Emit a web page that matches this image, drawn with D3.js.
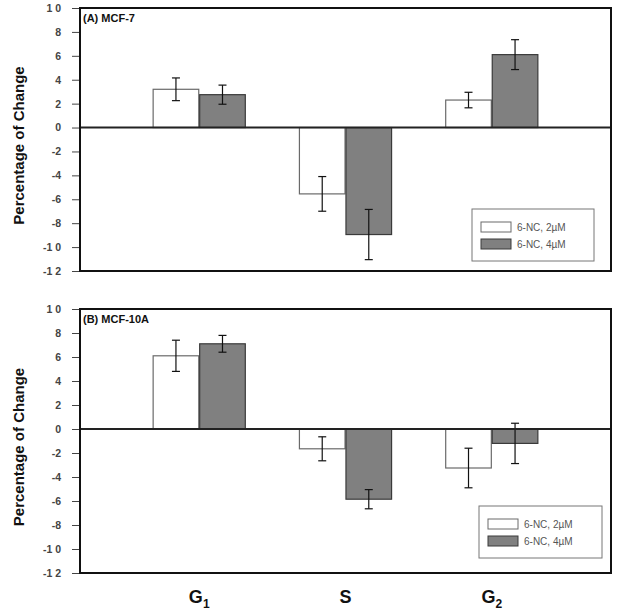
<!DOCTYPE html>
<html><head><meta charset="utf-8">
<script src="https://cdn.jsdelivr.net/npm/d3@7"></script>
<style>body{margin:0;background:#fff}</style>
</head><body>
<svg id="c" width="619" height="612"></svg>
<script>
const phases = ["G1", "S", "G2"];
const series = ["6-NC, 2uM", "6-NC, 4uM"];
const yTicks = [10, 8, 6, 4, 2, 0, -2, -4, -6, -8, -10, -12];
const panelTitles = ["(A) MCF-7", "(B) MCF-10A"];
// MCF-7
const mcf7_2uM = [3.2, -5.55, 2.3];
const mcf7_2uM_err = [0.95, 1.45, 0.65];
const mcf7_4uM = [2.75, -8.95, 6.1];
const mcf7_4uM_err = [0.8, 2.1, 1.25];
// MCF-10A
const mcf10a_2uM = [6.1, -1.65, -3.25];
const mcf10a_2uM_err = [1.3, 1.0, 1.65];
const mcf10a_4uM = [7.1, -5.85, -1.2];
const mcf10a_4uM_err = [0.7, 0.8, 1.68];

const panels = [
  {title: panelTitles[0], vals: [mcf7_2uM, mcf7_4uM], errs: [mcf7_2uM_err, mcf7_4uM_err], top: 8, bottom: 271, legend: {x: 472, y: 209, w: 122, h: 52}},
  {title: panelTitles[1], vals: [mcf10a_2uM, mcf10a_4uM], errs: [mcf10a_2uM_err, mcf10a_4uM_err], top: 309, bottom: 573, legend: {x: 479, y: 506, w: 123, h: 52}}
];
const fills = ["#ffffff", "#808080"];
const strokes = ["#6a6a6a", "#3a3a3a"];
const left = 80, right = 611;
const svg = d3.select("#c");
const font = "Liberation Sans, Arial, sans-serif";

const x0 = d3.scaleBand().domain(phases).range([left, right]).paddingInner(0.37).paddingOuter(0.5);
const x1 = d3.scaleBand().domain(series).range([0, x0.bandwidth()]).paddingInner(0.02);

panels.forEach((p, pi) => {
  const y = d3.scaleLinear().domain([-12, 10]).range([p.bottom, p.top]);
  const g = svg.append("g");
  // y axis
  const ax = g.append("g").attr("transform", `translate(${left},0)`)
    .call(d3.axisLeft(y).tickValues(yTicks).tickSize(8).tickPadding(11).tickFormat(d => String(d).split("").join(" ").replace("- ", "-")));
  ax.select(".domain").remove();
  ax.selectAll("line").attr("stroke", "#444").attr("stroke-width", 1);
  ax.selectAll("text").attr("font-family", font).attr("font-size", 10.5).attr("font-weight", "bold").attr("fill", "#444");
  // bars
  series.forEach((s, si) => {
    g.selectAll(null).data(phases).enter().append("rect")
      .attr("x", d => x0(d) + x1(s))
      .attr("width", x1.bandwidth())
      .attr("y", (d, i) => y(Math.max(0, p.vals[si][i])))
      .attr("height", (d, i) => Math.abs(y(p.vals[si][i]) - y(0)))
      .attr("fill", fills[si]).attr("stroke", strokes[si]).attr("stroke-width", 1.2);
  });
  // error bars
  series.forEach((s, si) => {
    phases.forEach((d, i) => {
      const cx = x0(d) + x1(s) + x1.bandwidth() / 2;
      const v = p.vals[si][i], e = p.errs[si][i];
      const y1 = y(v + e), y2 = y(v - e);
      g.append("line").attr("x1", cx).attr("x2", cx).attr("y1", y1).attr("y2", y2).attr("stroke", "#111").attr("stroke-width", 1.2);
      [y1, y2].forEach(yy => g.append("line").attr("x1", cx - 4).attr("x2", cx + 4).attr("y1", yy).attr("y2", yy).attr("stroke", "#111").attr("stroke-width", 1.2));
    });
  });
  // zero line
  g.append("line").attr("x1", left).attr("x2", right).attr("y1", y(0)).attr("y2", y(0)).attr("stroke", "#222").attr("stroke-width", 2);
  // frame
  g.append("rect").attr("x", left).attr("y", y(10)).attr("width", right - left).attr("height", y(-12) - y(10))
    .attr("fill", "none").attr("stroke", "#111").attr("stroke-width", 2);
  // title
  g.append("text").attr("x", left + 3).attr("y", p.top + 14).attr("font-family", font).attr("font-size", 11).attr("font-weight", "bold").attr("fill", "#111").text(p.title);
  // y label
  const cy = (p.top + p.bottom) / 2 + 6;
  g.append("text").attr("transform", `translate(24,${cy}) rotate(-90)`).attr("text-anchor", "middle")
    .attr("font-family", font).attr("font-size", 15).attr("font-weight", "bold").attr("fill", "#111").text("Percentage of Change");
  // legend
  const L = p.legend;
  g.append("rect").attr("x", L.x).attr("y", L.y).attr("width", L.w).attr("height", L.h).attr("fill", "#fff").attr("stroke", "#777").attr("stroke-width", 1);
  series.forEach((s, si) => {
    const ly = L.y + 13 + si * 17;
    g.append("rect").attr("x", L.x + 9).attr("y", ly).attr("width", 30).attr("height", 10).attr("fill", fills[si]).attr("stroke", strokes[si]).attr("stroke-width", 1);
    g.append("text").attr("x", L.x + 45).attr("y", ly + 9).attr("font-family", font).attr("font-size", 10).attr("fill", "#555").text(s.replace("u", "\u00b5"));
  });
});

// x labels
const xl = svg.append("g");
phases.forEach(ph => {
  const t = xl.append("text").attr("x", x0(ph) + x0.bandwidth() / 2).attr("y", 603).attr("text-anchor", "middle")
    .attr("font-family", font).attr("font-size", 18).attr("font-weight", "bold").attr("fill", "#111");
  t.append("tspan").text(ph[0]);
  if (ph.length > 1) t.append("tspan").attr("font-size", 12).attr("dy", 5).text(ph.slice(1));
});
</script>
</body></html>
